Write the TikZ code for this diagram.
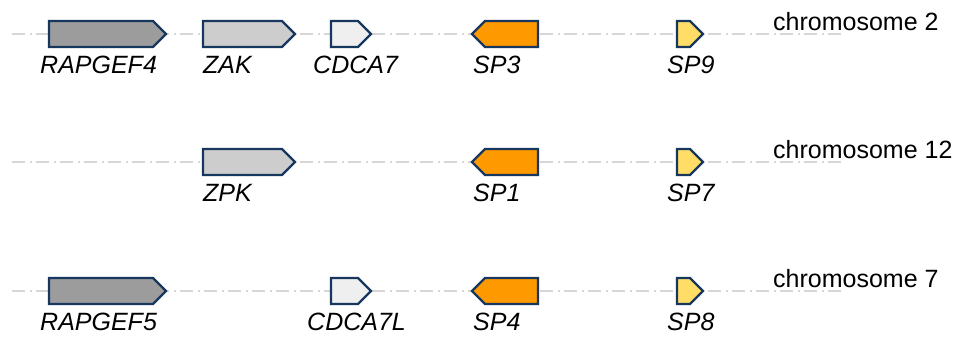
\documentclass[tikz,border=0pt]{standalone}
\usepackage{fontspec}
\setmainfont{Liberation Sans}
\definecolor{genedge}{HTML}{17375E}
\definecolor{darkgene}{HTML}{9C9C9C}
\definecolor{midgene}{HTML}{CDCDCD}
\definecolor{lightgene}{HTML}{EFEFEF}
\definecolor{spgene}{HTML}{FF9900}
\definecolor{spsmall}{HTML}{FFDD66}
\tikzset{
  % chromosome axis
  chromline/.style={draw=black!16, line width=1.3pt,
    dash pattern=on 13pt off 5pt on 1.5pt off 4.5pt},
  % gene arrow
  gene/.style={draw=genedge, line width=2.4pt, line join=miter},
  % gene name below its arrow
  gname/.style={anchor=base west, inner sep=0pt,
    font=\fontsize{25}{30}\selectfont\itshape},
  % chromosome name
  chrom/.style={anchor=base west, inner sep=0pt,
    font=\fontsize{25}{30}\selectfont},
}
\begin{document}
\begin{tikzpicture}[x=1pt, y=-1pt]
  \useasboundingbox (0,0) rectangle (960,338);

  % chromosome 2
  \draw[chromline] (12,34) -- (842,34);
  \draw[gene, fill=darkgene] (49,21) -- ++(104,0) -- ++(13,13) -- ++(-13,13) -- ++(-104,0) -- cycle;
  \draw[gene, fill=midgene] (203,21) -- ++(79,0) -- ++(13,13) -- ++(-13,13) -- ++(-79,0) -- cycle;
  \draw[gene, fill=lightgene] (331,21) -- ++(27,0) -- ++(13,13) -- ++(-13,13) -- ++(-27,0) -- cycle;
  \draw[gene, fill=spgene] (538,21) -- ++(-53,0) -- ++(-13,13) -- ++(13,13) -- ++(53,0) -- cycle;
  \draw[gene, fill=spsmall] (677,21) -- ++(13,0) -- ++(13,13) -- ++(-13,13) -- ++(-13,0) -- cycle;
  \node[gname] (rapgef4) at (40,73) {RAPGEF4};
  \node[gname] (zak) at (203,73) {ZAK};
  \node[gname] (cdca7) at (313,73) {CDCA7};
  \node[gname] (sp3) at (473,73) {SP3};
  \node[gname] (sp9) at (667,73) {SP9};
  \node[chrom] (chr2) at (773,30) {chromosome 2};

  % chromosome 12
  \draw[chromline] (12,162) -- (842,162);
  \draw[gene, fill=midgene] (203,149) -- ++(79,0) -- ++(13,13) -- ++(-13,13) -- ++(-79,0) -- cycle;
  \draw[gene, fill=spgene] (538,149) -- ++(-53,0) -- ++(-13,13) -- ++(13,13) -- ++(53,0) -- cycle;
  \draw[gene, fill=spsmall] (677,149) -- ++(13,0) -- ++(13,13) -- ++(-13,13) -- ++(-13,0) -- cycle;
  \node[gname] (zpk) at (203,201) {ZPK};
  \node[gname] (sp1) at (473,201) {SP1};
  \node[gname] (sp7) at (667,201) {SP7};
  \node[chrom] (chr12) at (773,158) {chromosome 12};

  % chromosome 7
  \draw[chromline] (12,291) -- (842,291);
  \draw[gene, fill=darkgene] (49,278) -- ++(104,0) -- ++(13,13) -- ++(-13,13) -- ++(-104,0) -- cycle;
  \draw[gene, fill=lightgene] (331,278) -- ++(27,0) -- ++(13,13) -- ++(-13,13) -- ++(-27,0) -- cycle;
  \draw[gene, fill=spgene] (538,278) -- ++(-53,0) -- ++(-13,13) -- ++(13,13) -- ++(53,0) -- cycle;
  \draw[gene, fill=spsmall] (677,278) -- ++(13,0) -- ++(13,13) -- ++(-13,13) -- ++(-13,0) -- cycle;
  \node[gname] (rapgef5) at (40,330) {RAPGEF5};
  \node[gname] (cdca7l) at (307,330) {CDCA7L};
  \node[gname] (sp4) at (473,330) {SP4};
  \node[gname] (sp8) at (667,330) {SP8};
  \node[chrom] (chr7) at (773,287) {chromosome 7};
\end{tikzpicture}
\end{document}
